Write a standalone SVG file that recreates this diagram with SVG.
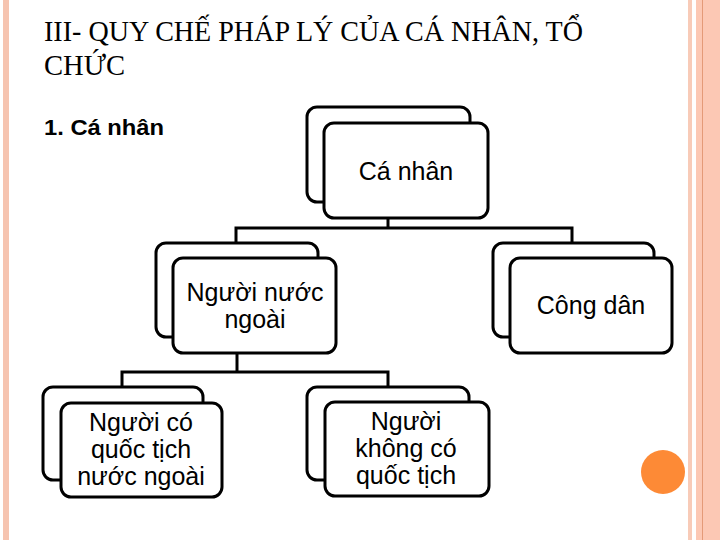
<svg xmlns="http://www.w3.org/2000/svg" width="720" height="540" viewBox="0 0 720 540">
<style>
.box{fill:#fff;stroke:#000;stroke-width:3}
.con{fill:none;stroke:#000;stroke-width:3}
.lbl{font-family:"Liberation Sans",Arial,sans-serif;font-size:25px;fill:#000;text-anchor:middle}
.title{font-family:"Liberation Serif","Times New Roman",serif;font-size:30px;fill:#000}
</style>
<rect x="0" y="0" width="720" height="540" fill="#fff"/>
<g id="frame">
<rect x="3" y="0" width="6" height="540" fill="#f6c4b0"/>
<rect x="688" y="0" width="4" height="540" fill="#f8cbb8"/>
<rect x="696" y="0" width="24" height="540" fill="#fcc8b4"/>
<line x1="702.5" y1="0" x2="702.5" y2="540" stroke="#e49a78" stroke-width="1"/>
<circle cx="663" cy="472" r="22" fill="#fd8a36"/>
</g>
<g id="title">
<text class="title" x="44" y="41" textLength="539" lengthAdjust="spacingAndGlyphs">III- QUY CHẾ PHÁP LÝ CỦA CÁ NHÂN, TỔ</text>
<text class="title" x="44" y="75" textLength="81" lengthAdjust="spacingAndGlyphs">CHỨC</text>
</g>
<text id="heading" x="44" y="135" font-family="'Liberation Sans',Arial,sans-serif" font-weight="bold" font-size="22" textLength="120" lengthAdjust="spacingAndGlyphs">1. Cá nhân</text>
<g id="connectors">
<polyline class="con" points="388,218 388,228"/>
<polyline class="con" points="236,243 236,228 572,228 572,243"/>
<polyline class="con" points="237,353 237,372"/>
<polyline class="con" points="122,387 122,372 388,372 388,387"/>
</g>
<g id="n-canhan">
<rect class="box" x="307" y="107" width="163" height="95" rx="10"/>
<rect class="box" x="324" y="123" width="164" height="95" rx="10"/>
<text class="lbl" x="406" y="180">Cá nhân</text>
</g>
<g id="n-nuocngoai">
<rect class="box" x="156" y="243" width="162" height="94" rx="10"/>
<rect class="box" x="173" y="258" width="163" height="95" rx="10"/>
<text class="lbl" x="255" y="301">Người nước</text>
<text class="lbl" x="255" y="328">ngoài</text>
</g>
<g id="n-congdan">
<rect class="box" x="493" y="243" width="161" height="94" rx="10"/>
<rect class="box" x="510" y="258" width="162" height="95" rx="10"/>
<text class="lbl" x="591" y="314">Công dân</text>
</g>
<g id="n-coquoctich">
<rect class="box" x="43" y="387" width="160" height="93" rx="10"/>
<rect class="box" x="61" y="403" width="161" height="94" rx="10"/>
<text class="lbl" x="141" y="431">Người có</text>
<text class="lbl" x="141" y="458">quốc tịch</text>
<text class="lbl" x="141" y="485">nước ngoài</text>
</g>
<g id="n-khongquoctich">
<rect class="box" x="307" y="387" width="162" height="93" rx="10"/>
<rect class="box" x="325" y="402" width="164" height="94" rx="10"/>
<text class="lbl" x="406" y="430">Người</text>
<text class="lbl" x="406" y="457">không có</text>
<text class="lbl" x="406" y="484">quốc tịch</text>
</g>
</svg>
